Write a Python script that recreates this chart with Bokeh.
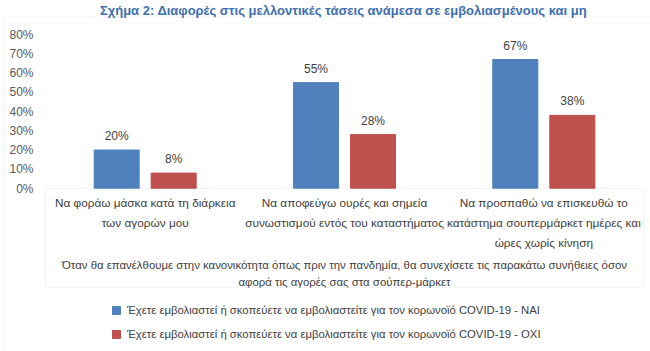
from bokeh.plotting import figure
from bokeh.models import (Range1d, LinearAxis, FixedTicker, NumeralTickFormatter,
                          BoxAnnotation, Label, Legend, LegendItem, ColumnDataSource)
from bokeh.core.properties import value
from bokeh.embed import file_html
from bokeh.resources import INLINE

# ---------------- data ----------------
title_text = "Σχήμα 2: Διαφορές στις μελλοντικές τάσεις ανάμεσα σε εμβολιασμένους και μη"
categories = [
    "Να φοράω μάσκα κατά τη διάρκεια\nτων αγορών μου",
    "Να αποφεύγω ουρές και σημεία\nσυνωστισμού εντός του καταστήματος",
    "Να προσπαθώ να επισκευθώ το\nκατάστημα σουπερμάρκετ ημέρες και\nώρες χωρίς κίνηση",
]
axis_title = ("Όταν θα επανέλθουμε στην κανονικότητα όπως πριν την πανδημία, θα συνεχίσετε τις παρακάτω συνήθειες όσον\n"
              "αφορά τις αγορές σας στα σούπερ-μάρκετ")
series_names = [
    "Έχετε εμβολιαστεί ή σκοπεύετε να εμβολιαστείτε για τον κορωνοϊό COVID-19 - ΝΑΙ",
    "Έχετε εμβολιαστεί ή σκοπεύετε να εμβολιαστείτε για τον κορωνοϊό COVID-19 - ΟΧΙ",
]
nai = [20, 55, 67]
oxi = [8, 28, 38]
y_ticks = [0, 10, 20, 30, 40, 50, 60, 70, 80]

BLUE = "#4F81BD"
RED = "#C0504D"
TEXT = "#404040"
FONT = "Liberation Sans"

# ---------------- pixel helpers (layout only) ----------------
W, H = 650, 351
X0, PXX = 45.0, 199.33     # pixel of x=0, pixels per category
Y0, PXY = 188.0, 1.925     # pixel of 0%, pixels per percent


def dx(px):
    return (px - X0) / PXX


def dy(py):
    return (Y0 - py) / PXY


p = figure(width=W, height=H, output_backend="svg", toolbar_location=None,
           x_range=Range1d(dx(0), dx(W)), y_range=Range1d(dy(H), dy(0)),
           x_axis_type=None, y_axis_type=None, min_border=0,
           background_fill_color="white", border_fill_color="white")
p.outline_line_color = None
p.xgrid.visible = False

# y axis placed at x = 0 (left edge of the plot area)
yaxis = LinearAxis(ticker=FixedTicker(ticks=y_ticks), fixed_location=0, bounds=(0, 80))
yaxis.formatter = NumeralTickFormatter(format="0")
yaxis.major_label_overrides = {t: f"{t}%" for t in y_ticks}
yaxis.axis_line_color = None
yaxis.major_tick_line_color = None
yaxis.minor_tick_line_color = None
yaxis.major_tick_out = 0
yaxis.major_label_standoff = 12
yaxis.major_label_text_font = FONT
yaxis.major_label_text_font_size = "12px"
yaxis.major_label_text_color = "#595959"
p.add_layout(yaxis, "left")

p.ygrid.ticker = FixedTicker(ticks=y_ticks[1:])
p.ygrid.grid_line_color = "#D9D9D9"
p.ygrid.cross_bounds = (0, 3)

# outer chart border and category box
p.add_layout(BoxAnnotation(left=dx(3), right=dx(W + 20), top=dy(16), bottom=dy(H + 20),
                           fill_color=None, line_color="#E3E3E3", line_width=1))
p.add_layout(BoxAnnotation(left=0, right=3, top=0, bottom=dy(287),
                           fill_color=None, line_color="#D9D9D9", line_width=1))

cat_pos = [i + 0.5 for i in range(len(categories))]
off = 0.143
bw = 0.226

src_nai = ColumnDataSource(dict(x=[c - off for c in cat_pos], top=nai,
                                lab=[f"{v}%" for v in nai]))
src_oxi = ColumnDataSource(dict(x=[c + off for c in cat_pos], top=oxi,
                                lab=[f"{v}%" for v in oxi]))

r1 = p.vbar(x="x", top="top", width=bw, bottom=0, source=src_nai,
            fill_color=BLUE, line_color=BLUE)
r2 = p.vbar(x="x", top="top", width=bw, bottom=0, source=src_oxi,
            fill_color=RED, line_color=RED)

for s in (src_nai, src_oxi):
    p.text(x="x", y="top", text="lab", source=s, text_align="center",
           text_baseline="bottom", y_offset=-7, text_font=value(FONT),
           text_font_size="12px", text_color=TEXT)

# category labels
p.text(x=cat_pos, y=[dy(195)] * len(cat_pos), text=categories,
       text_align="center", text_baseline="top", text_line_height=1.45,
       text_font=value(FONT), text_font_size="11.8px", text_color=TEXT)

# axis title
p.text(x=[1.5], y=[dy(258)], text=[axis_title], text_align="center",
       text_baseline="top", text_line_height=1.45,
       text_font=value(FONT), text_font_size="11.4px", text_color=TEXT)

# chart title
p.add_layout(Label(x=dx(343), y=dy(10), text=title_text, text_align="center",
                   text_baseline="middle", text_font=FONT, text_font_style="bold",
                   text_font_size="13px", text_color="#3E6FB0"))

legend = Legend(items=[LegendItem(label=series_names[0], renderers=[r1]),
                       LegendItem(label=series_names[1], renderers=[r2])],
                location=(111, 7), padding=5, spacing=4, label_height=20,
                glyph_height=10, glyph_width=10, label_standoff=6,
                background_fill_alpha=0, border_line_color=None,
                label_text_font=FONT, label_text_font_size="11.3px",
                label_text_color=TEXT)
p.add_layout(legend)

open("out.html", "w").write(file_html(p, INLINE))
